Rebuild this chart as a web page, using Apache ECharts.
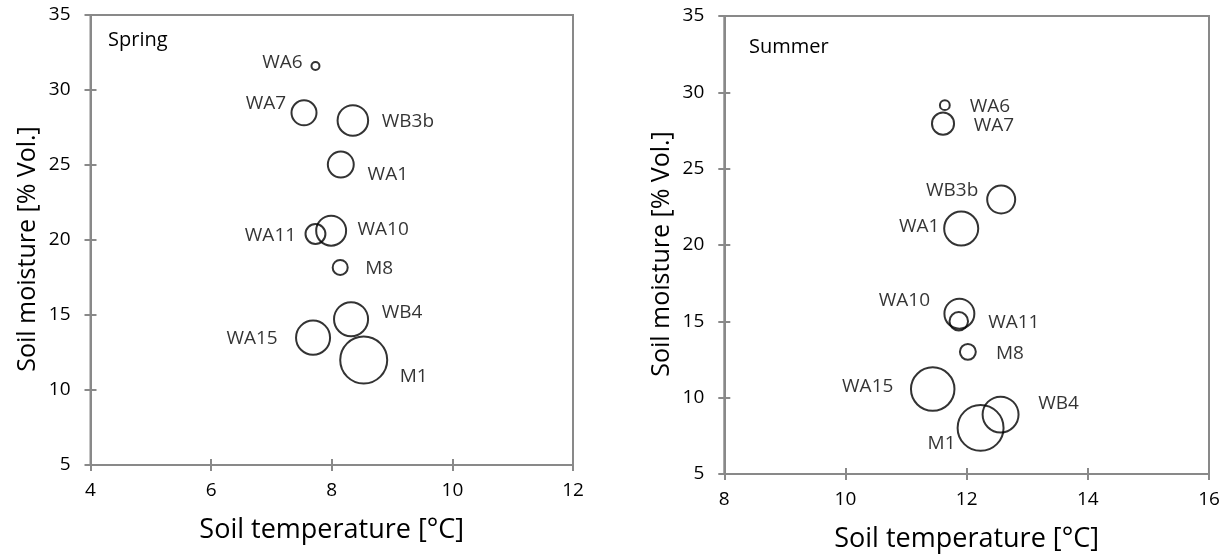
<!DOCTYPE html>
<html>
<head>
<meta charset="utf-8">
<script src="https://cdn.jsdelivr.net/npm/echarts@6/dist/echarts.min.js"></script>
<style>
html,body{margin:0;padding:0;background:#fff;}
#chart{width:1225px;height:558px;}
</style>
</head>
<body>
<div id="chart"></div>
<script>
// ---- data ----
const springSites = ['WA6','WA7','WB3b','WA1','WA10','WA11','M8','WB4','WA15','M1'];
const springTemp  = [7.73, 7.54, 8.35, 8.15, 7.99, 7.73, 8.14, 8.32, 7.69, 8.53];
const springMoist = [31.6, 28.48, 27.97, 25.03, 20.62, 20.4, 18.17, 14.72, 13.49, 12.0];
const springSize  = [1.0, 7.3, 10.6, 7.8, 10.2, 4.8, 2.9, 13.0, 13.0, 24.0];

const summerSites = ['WA6','WA7','WB3b','WA1','WA10','WA11','M8','WA15','WB4','M1'];
const summerTemp  = [11.64, 11.61, 12.57, 11.91, 11.88, 11.87, 12.02, 11.44, 12.56, 12.23];
const summerMoist = [29.16, 27.95, 22.98, 21.08, 15.5, 15.0, 13.0, 10.56, 8.89, 8.02];
const summerSize  = [1.4, 5.8, 9.0, 13.0, 10.2, 4.2, 3.2, 20.7, 14.4, 23.0];

const springXTicks = {min: 4, max: 12, interval: 2};
const summerXTicks = {min: 8, max: 16, interval: 2};
const yTicks = {min: 5, max: 35, interval: 5};

// ---- style config (label placement) ----
const springLabelOffset = [[-33,-3],[-38,-9],[55,1],[47,10],[52,-1],[-45,2],[39,1],[51,-7],[-61,1],[50,17]];
const summerLabelOffset = [[45,1],[51,2],[-49,-9],[-42,-2],[-55,-13],[55,1],[42,2],[-65,-3],[58,-11],[-39,16]];

const FONT = 'Open Sans';
const AXIS_COLOR = '#898989';
const TEXT_COLOR = '#000';
const SMALL = 19;

function buildData(sites, xs, ys, sizes, offsets) {
  return sites.map((s, i) => ({
    name: s,
    value: [xs[i], ys[i], sizes[i]],
    label: {offset: offsets[i]}
  }));
}

function mainX(grid, t) {
  return {
    gridIndex: grid, type: 'value', min: t.min, max: t.max, interval: t.interval,
    position: 'bottom',
    axisLine: {show: true, onZero: false, lineStyle: {color: AXIS_COLOR, width: 2}},
    axisTick: {show: true, inside: false, length: 6, lineStyle: {color: AXIS_COLOR, width: 2}},
    axisLabel: {margin: 16, fontSize: SMALL, fontFamily: FONT, color: TEXT_COLOR},
    splitLine: {show: false},
    name: 'Soil temperature [°C]', nameLocation: 'middle', nameGap: 52,
    nameTextStyle: {fontSize: 27, fontFamily: FONT, color: TEXT_COLOR}
  };
}
function innerX(grid, t) {
  return {
    gridIndex: grid, type: 'value', min: t.min, max: t.max, interval: t.interval,
    position: 'bottom',
    axisLine: {show: false, onZero: false},
    axisTick: {show: true, inside: true, length: 6, lineStyle: {color: AXIS_COLOR, width: 2}},
    axisLabel: {show: false}, splitLine: {show: false}
  };
}
function mainY(grid, t) {
  return {
    gridIndex: grid, type: 'value', min: t.min, max: t.max, interval: t.interval,
    position: 'left',
    axisLine: {show: true, onZero: false, lineStyle: {color: AXIS_COLOR, width: 2}},
    axisTick: {show: true, inside: false, length: 6, lineStyle: {color: AXIS_COLOR, width: 2}},
    axisLabel: {margin: 20, fontSize: SMALL, fontFamily: FONT, color: TEXT_COLOR},
    splitLine: {show: false},
    name: 'Soil moisture [% Vol.]', nameLocation: 'middle', nameGap: 50,
    nameTextStyle: {fontSize: 25, fontFamily: FONT, color: TEXT_COLOR, padding: [0, 18, 0, 0]}
  };
}
function innerY(grid, t) {
  return {
    gridIndex: grid, type: 'value', min: t.min, max: t.max, interval: t.interval,
    position: 'left',
    axisLine: {show: false, onZero: false},
    axisTick: {show: true, inside: true, length: 6, lineStyle: {color: AXIS_COLOR, width: 2}},
    axisLabel: {show: false}, splitLine: {show: false}
  };
}

function bubbleSeries(xi, yi, data) {
  return {
    type: 'scatter', xAxisIndex: xi, yAxisIndex: yi,
    data: data,
    symbol: 'circle',
    symbolSize: v => Math.max(10 * Math.sqrt(v[2]) - 2, 4),
    itemStyle: {color: 'rgba(0,0,0,0)', borderColor: '#000', borderWidth: 2},
    label: {show: true, position: 'inside', formatter: p => p.name,
            fontSize: SMALL, fontFamily: FONT, color: TEXT_COLOR},
    emphasis: {disabled: true},
    silent: true
  };
}

const chart = echarts.init(document.getElementById('chart'), null, {renderer: 'canvas'});
chart.setOption({
  animation: false,
  backgroundColor: '#fff',
  title: [
    {text: 'Spring', left: 108, top: 30, textStyle: {fontSize: 20, fontWeight: 'normal', fontFamily: FONT, color: TEXT_COLOR}, padding: 0},
    {text: 'Summer', left: 749, top: 37, textStyle: {fontSize: 20, fontWeight: 'normal', fontFamily: FONT, color: TEXT_COLOR}, padding: 0}
  ],
  grid: [
    {left: 90.5, top: 15, width: 482.5, height: 450, show: true, borderColor: AXIS_COLOR, borderWidth: 2, backgroundColor: 'transparent'},
    {left: 724.3, top: 16, width: 484.7, height: 461.3, show: true, borderColor: AXIS_COLOR, borderWidth: 2, backgroundColor: 'transparent'}
  ],
  xAxis: [mainX(0, springXTicks), innerX(0, springXTicks), mainX(1, summerXTicks), innerX(1, summerXTicks)],
  yAxis: [mainY(0, yTicks), innerY(0, yTicks), mainY(1, yTicks), innerY(1, yTicks)],
  series: [
    bubbleSeries(0, 0, buildData(springSites, springTemp, springMoist, springSize, springLabelOffset)),
    bubbleSeries(2, 2, buildData(summerSites, summerTemp, summerMoist, summerSize, summerLabelOffset))
  ]
});
</script>
</body>
</html>
